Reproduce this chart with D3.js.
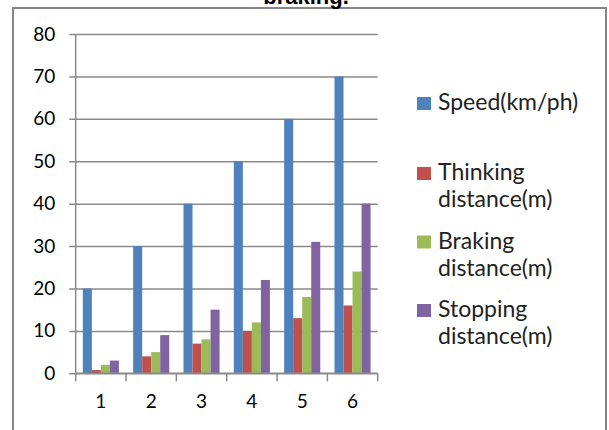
<!DOCTYPE html>
<html>
<head>
<meta charset="utf-8">
<script src="https://cdn.jsdelivr.net/npm/d3@7"></script>
<style>
  html, body { margin: 0; padding: 0; background: #fff; }
  svg { display: block; }
</style>
</head>
<body>
<svg id="chart" width="609" height="430"></svg>
<script>
const categories = ["1", "2", "3", "4", "5", "6"];
const seriesNames = ["Speed(km/ph)", "Thinking distance(m)", "Braking distance(m)", "Stopping distance(m)"];
const speed = [20, 30, 40, 50, 60, 70];
const thinking = [0.75, 4, 7, 10, 13, 16];
const braking = [2, 5, 8, 12, 18, 24];
const stopping = [3, 9, 15, 22, 31, 40];
const yTicks = [0, 10, 20, 30, 40, 50, 60, 70, 80];
const colors = ["#4F81BD", "#C0504D", "#9BBB59", "#8064A2"];
const titleText = "braking.";

const seriesValues = [speed, thinking, braking, stopping];
const data = categories.map((c, i) => ({ cat: c, values: seriesValues.map(s => s[i]) }));

const svg = d3.select("#chart");
const font = "Lato, 'Open Sans', sans-serif";

// outer frame
svg.append("rect")
  .attr("x", 13).attr("y", 8)
  .attr("width", 593).attr("height", 440)
  .attr("fill", "#fff")
  .attr("stroke", "#868686").attr("stroke-width", 2);

// clipped title
svg.append("text")
  .attr("x", 306).attr("y", 4)
  .attr("text-anchor", "middle")
  .attr("font-family", "'Liberation Sans', Arial, sans-serif")
  .attr("font-weight", "bold")
  .attr("font-size", 22)
  .attr("fill", "#000")
  .text(titleText);

const plotLeft = 75.7, plotRight = 377.7, plotTop = 34, plotBottom = 373.3;

const x = d3.scaleBand().domain(categories).range([plotLeft, plotRight]).paddingInner(0).paddingOuter(0);
const x1 = d3.scaleBand().domain(d3.range(seriesNames.length)).range([0, x.bandwidth()]).paddingInner(0).paddingOuter(0.79);
const y = d3.scaleLinear().domain([0, 80]).range([plotBottom, plotTop]);

// gridlines + y axis labels
const yAxis = d3.axisLeft(y).tickValues(yTicks).tickSize(-(plotRight - plotLeft + 6.5)).tickPadding(14).tickFormat(d3.format("d"));
const gy = svg.append("g").attr("transform", `translate(${plotLeft - 6.5},0)`).call(yAxis);
gy.select(".domain").remove();
gy.selectAll(".tick line").attr("stroke", "#8a8a8a").attr("stroke-width", 1.5);
gy.selectAll(".tick text")
  .attr("font-family", font).attr("font-size", 19).attr("fill", "#000");

// bars
const groups = svg.append("g").selectAll("g").data(data).join("g")
  .attr("transform", d => `translate(${x(d.cat)},0)`);
groups.selectAll("rect").data(d => d.values.map((v, i) => ({ v, i }))).join("rect")
  .attr("x", d => x1(d.i))
  .attr("width", x1.bandwidth())
  .attr("y", d => y(d.v))
  .attr("height", d => y(0) - y(d.v))
  .attr("fill", d => colors[d.i]);

// y axis line
svg.append("line")
  .attr("x1", plotLeft).attr("x2", plotLeft)
  .attr("y1", plotTop).attr("y2", plotBottom)
  .attr("stroke", "#8a8a8a").attr("stroke-width", 1.5);

// x axis with ticks at band boundaries
const xAxisG = svg.append("g");
xAxisG.append("line")
  .attr("x1", plotLeft).attr("x2", plotRight)
  .attr("y1", plotBottom).attr("y2", plotBottom)
  .attr("stroke", "#8a8a8a").attr("stroke-width", 1.5);
const boundaries = categories.map(c => x(c)).concat([x(categories[categories.length - 1]) + x.bandwidth()]);
xAxisG.selectAll("line.tk").data(boundaries).join("line")
  .attr("class", "tk")
  .attr("x1", d => d).attr("x2", d => d)
  .attr("y1", plotBottom).attr("y2", plotBottom + 8)
  .attr("stroke", "#8a8a8a").attr("stroke-width", 1.5);
xAxisG.selectAll("text").data(categories).join("text")
  .attr("x", d => x(d) + x.bandwidth() / 2)
  .attr("y", 408)
  .attr("text-anchor", "middle")
  .attr("font-family", font).attr("font-size", 19).attr("fill", "#000")
  .text(d => d);

// legend
const legendTops = [110, 180, 248.5, 317];
const legend = svg.append("g");
seriesNames.forEach((name, i) => {
  const lines = i === 0 ? [name] : name.split(" ");
  const g = legend.append("g");
  g.append("rect")
    .attr("x", 417).attr("y", legendTops[i] - 13)
    .attr("width", 14).attr("height", 13)
    .attr("fill", colors[i]);
  lines.forEach((ln, j) => {
    g.append("text")
      .attr("x", 438).attr("y", legendTops[i] + j * 27)
      .attr("font-family", font).attr("font-size", 23).attr("fill", "#222")
      .text(ln);
  });
});
</script>
</body>
</html>
